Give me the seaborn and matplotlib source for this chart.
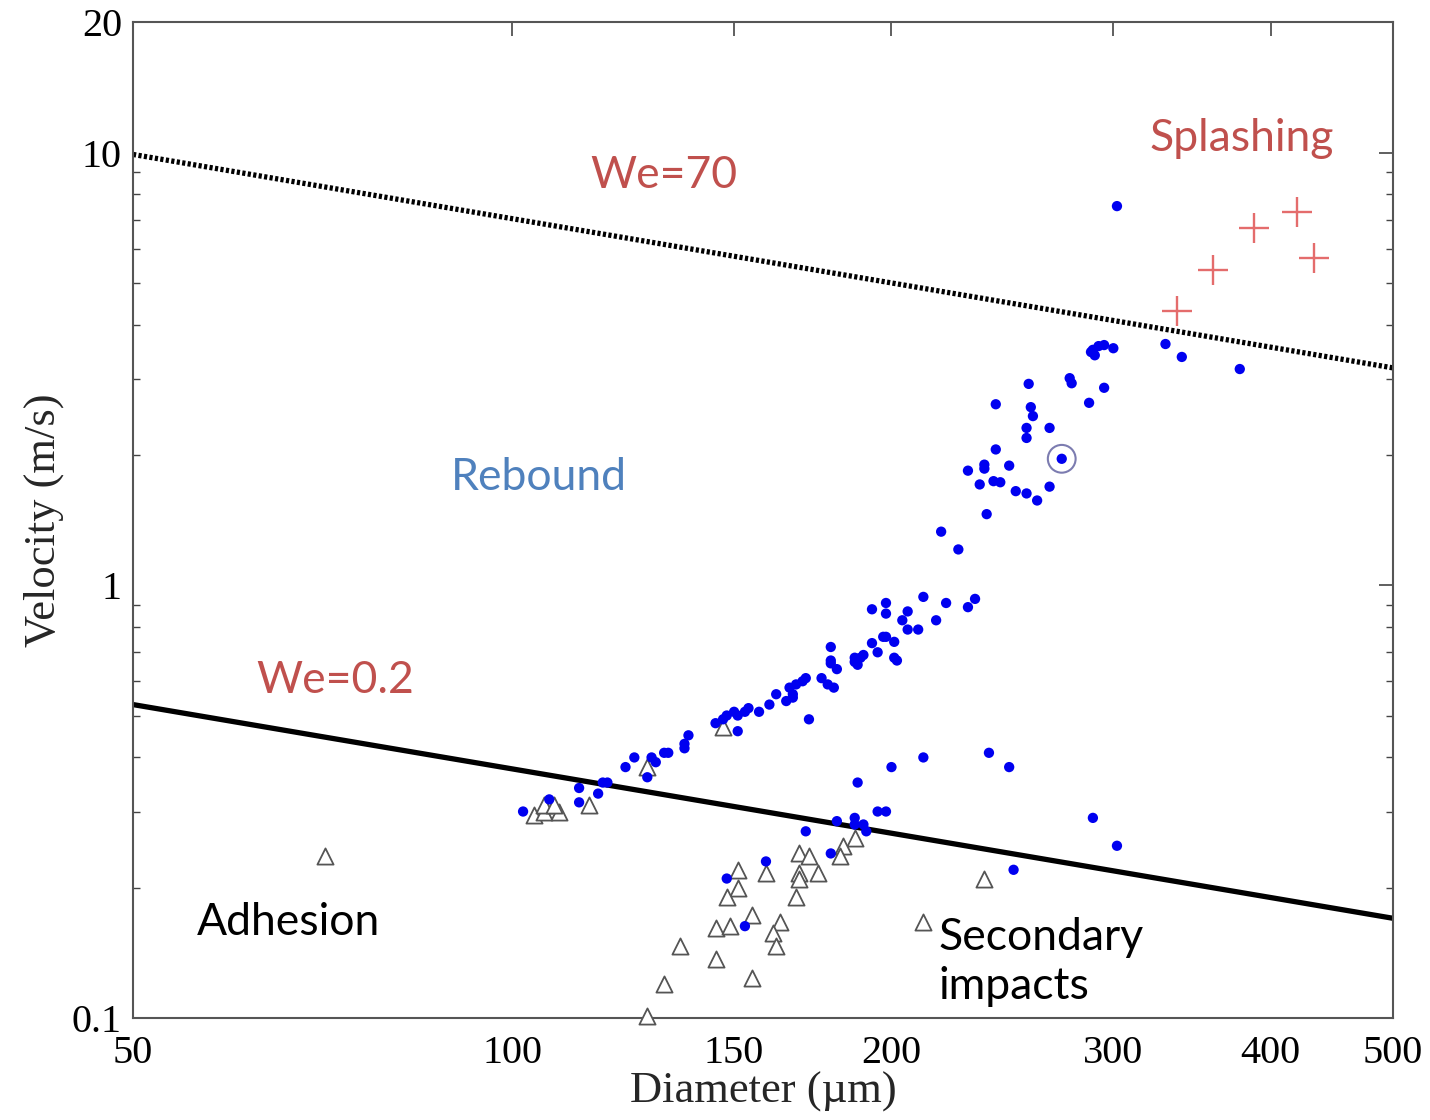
import numpy as np
import pandas as pd
import matplotlib
matplotlib.use("Agg")
import matplotlib.pyplot as plt
import matplotlib.ticker as mticker
import seaborn as sns

# ---------------- data ----------------
# Rebound (blue dots): diameter (um), velocity (m/s)
rebound_d = [102, 107, 113, 113, 117, 118, 119, 123, 125, 128, 129, 130, 132, 133, 137, 138, 137,
             145, 147, 148, 150, 151, 153, 154, 157, 151, 160, 162, 165, 167, 166, 168, 170, 171,
             167, 172, 176, 178, 180, 179, 179, 179, 181, 187, 187, 189, 188, 190, 193, 197, 198,
             201, 195, 201, 202, 193, 198, 198, 206, 204, 206, 210, 217, 212, 221, 233, 230, 219,
             226, 238, 230, 235, 237, 237, 241, 244, 242, 248, 251, 256, 261, 267, 273, 242, 257,
             258, 259, 256, 256, 267, 277, 278, 287, 295, 288, 290, 292, 295, 300, 289, 330, 340,
             378, 302,
             212, 200, 188, 239, 248, 195, 198, 181, 187, 187, 190, 191, 171, 179, 159, 148, 153,
             289, 302, 250]
rebound_v = [0.30, 0.32, 0.34, 0.315, 0.33, 0.35, 0.35, 0.38, 0.40, 0.36, 0.40, 0.39, 0.41, 0.41,
             0.43, 0.45, 0.42, 0.48, 0.49, 0.50, 0.51, 0.50, 0.51, 0.52, 0.51, 0.46, 0.53, 0.56,
             0.54, 0.55, 0.58, 0.59, 0.60, 0.61, 0.56, 0.49, 0.61, 0.59, 0.58, 0.66, 0.72, 0.67,
             0.64, 0.665, 0.68, 0.68, 0.655, 0.69, 0.735, 0.76, 0.76, 0.74, 0.70, 0.68, 0.67, 0.88,
             0.91, 0.86, 0.87, 0.83, 0.79, 0.79, 0.83, 0.94, 0.91, 0.93, 0.89, 1.33, 1.21, 1.46,
             1.84, 1.71, 1.90, 1.86, 1.74, 1.73, 2.06, 1.89, 1.65, 1.63, 1.57, 1.69, 1.96, 2.62,
             2.92, 2.58, 2.46, 2.31, 2.19, 2.31, 3.01, 2.93, 2.64, 2.86, 3.46, 3.40, 3.57, 3.59,
             3.53, 3.50, 3.61, 3.37, 3.16, 7.52,
             0.40, 0.38, 0.35, 0.41, 0.38, 0.30, 0.30, 0.285, 0.29, 0.28, 0.28, 0.27, 0.27, 0.24,
             0.23, 0.21, 0.163, 0.29, 0.25, 0.22]

# Adhesion (open triangles)
adhesion_d = [104, 106, 106, 109, 108, 115, 128, 147, 71, 187, 183, 182, 169, 172, 175, 169, 169,
              151, 159, 151, 148, 168, 155, 163, 145, 149, 161, 162, 145, 155, 136, 132, 128, 212,
              237]
adhesion_v = [0.295, 0.30, 0.31, 0.30, 0.31, 0.31, 0.38, 0.47, 0.237, 0.26, 0.25, 0.237, 0.24,
              0.237, 0.216, 0.216, 0.21, 0.22, 0.216, 0.20, 0.19, 0.19, 0.173, 0.167, 0.161,
              0.163, 0.157, 0.147, 0.137, 0.124, 0.147, 0.12, 0.101, 0.167, 0.21]

# Splashing (red crosses)
splash_d = [337, 360, 388, 420, 433]
splash_v = [4.3, 5.35, 6.7, 7.3, 5.7]

# highlighted (circled) droplet
circled_d = [273]
circled_v = [1.96]

# Weber-number threshold lines
line_d = [50, 500]
we70_v = [9.9, 3.18]
we02_v = [0.53, 0.17]

x_ticks = [50, 100, 150, 200, 300, 400, 500]
y_ticks = [0.1, 1, 10, 20]
y_tick_labels = ["0.1", "1", "10", "20"]

# ---------------- plot ----------------
sns.set_style("white")
plt.rcParams["font.family"] = ["Liberation Serif", "DejaVu Serif"]

fig = plt.figure(figsize=(14.3, 11.2), dpi=100)
ax = fig.add_axes([0.093, 0.0911, 0.881, 0.889])
ax.set_xscale("log")
ax.set_yscale("log")

sns.lineplot(x=line_d, y=we70_v, ax=ax, color="black", lw=3.8,
             linestyle=(0, (0.6, 0.45)), zorder=2)
sns.lineplot(x=line_d, y=we02_v, ax=ax, color="black", lw=3.8, zorder=2)

df_adh = pd.DataFrame({"d": adhesion_d, "v": adhesion_v})
df_reb = pd.DataFrame({"d": rebound_d, "v": rebound_v})
df_spl = pd.DataFrame({"d": splash_d, "v": splash_v})
df_cir = pd.DataFrame({"d": circled_d, "v": circled_v})

sns.scatterplot(data=df_adh, x="d", y="v", ax=ax, marker="^", s=135,
                facecolor="white", edgecolor="#555555", linewidth=1.3, zorder=3,
                clip_on=False)
sns.scatterplot(data=df_reb, x="d", y="v", ax=ax, marker="o", s=55,
                color="#0000F0", edgecolor="none", linewidth=0, zorder=4)
sns.scatterplot(data=df_spl, x="d", y="v", ax=ax, marker="+", s=450,
                color="#E46C6C", linewidth=1.7, zorder=4)
sns.scatterplot(data=df_cir, x="d", y="v", ax=ax, marker="o", s=400,
                facecolor="none", edgecolor="#7C7CB0", linewidth=1.5, zorder=4)

ax.set_xlim(50, 500)
ax.set_ylim(0.1, 20)

ax.xaxis.set_major_locator(mticker.FixedLocator(x_ticks))
ax.xaxis.set_major_formatter(mticker.FixedFormatter([str(t) for t in x_ticks]))
ax.xaxis.set_minor_locator(mticker.NullLocator())
ax.yaxis.set_major_locator(mticker.FixedLocator(y_ticks))
ax.yaxis.set_major_formatter(mticker.FixedFormatter(y_tick_labels))
ax.yaxis.set_minor_locator(mticker.LogLocator(base=10, subs=np.arange(2, 10)))
ax.yaxis.set_minor_formatter(mticker.NullFormatter())

ax.tick_params(axis="both", which="major", direction="in", length=10, width=1.2,
               colors="#444444", labelcolor="black", labelsize=29,
               top=True, right=True)
ax.tick_params(axis="x", which="major", pad=12)
ax.tick_params(axis="y", which="major", pad=8)
ax.tick_params(axis="y", which="minor", direction="in", length=5, width=1.0,
               colors="#444444", left=True, right=True)
for sp in ax.spines.values():
    sp.set_color("#555555")
    sp.set_linewidth(1.5)

ax.set_xlabel("Diameter (\u00b5m)", fontsize=32, labelpad=0)
ax.set_ylabel("Velocity (m/s)", fontsize=32, labelpad=6)

ann = dict(family=["Lato", "DejaVu Sans"], fontsize=32)
ax.text(132, 8.87, "We=70", color="#C0504D", ha="center", va="center", **ann)
ax.text(379, 10.8, "Splashing", color="#C0504D", ha="center", va="center", **ann)
ax.text(105, 1.77, "Rebound", color="#4F81BD", ha="center", va="center", **ann)
ax.text(72.3, 0.601, "We=0.2", color="#C0504D", ha="center", va="center", **ann)
ax.text(66.4, 0.166, "Adhesion", color="black", ha="center", va="center", **ann)
ax.text(218, 0.1347, "Secondary\nimpacts", color="black", ha="left", va="center",
        linespacing=1.25, **ann)

fig.savefig("out.png", dpi=100, facecolor="white")
